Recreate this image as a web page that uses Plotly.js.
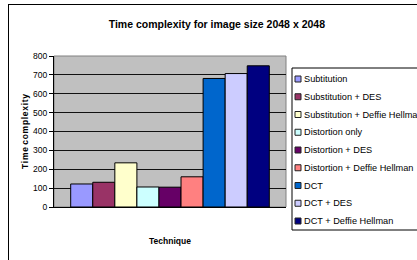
<!DOCTYPE html>
<html>
<head>
<meta charset="utf-8">
<script src="https://cdn.plot.ly/plotly-3.0.1.min.js"></script>
<style>
html,body{margin:0;padding:0;overflow:hidden;background:#fff;}
#chart{position:absolute;left:0;top:0;width:417px;height:260px;}
#frame{position:absolute;left:8px;top:4px;width:600px;height:400px;border:1px solid #000;pointer-events:none;}
</style>
</head>
<body>
<div id="chart"></div>
<div id="frame"></div>
<script>
const category = ['Technique'];
const seriesNames = ['Subtitution','Substitution + DES','Substitution + Deffie Hellman','Distortion only','Distortion + DES','Distortion + Deffie Hellman','DCT','DCT + DES','DCT + Deffie Hellman'];
const seriesValues = [122, 131, 234, 106, 105, 160, 681, 707, 748];
const seriesColors = ['#9999FF','#993366','#FFFFCC','#CCFFFF','#660066','#FF8080','#0066CC','#CCCCFF','#000080'];
const yTicks = [0,100,200,300,400,500,600,700,800];

const W = 417, H = 260;
const M = {l:54, r:131, t:56, b:53};
const PW = W - M.l - M.r, PH = H - M.t - M.b;
const px = v => (v - M.l) / PW;      // pixel x -> paper x
const py = v => (H - M.b - v) / PH;  // pixel y -> paper y

const traces = seriesNames.map((n,i)=>({
  type:'bar', name:n, x:category, y:[seriesValues[i]],
  marker:{color:seriesColors[i], line:{color:'#000', width:1}},
  hoverinfo:'name+y', showlegend:false
}));

// legend (drawn as a compact box like the original)
const legTop = 68, legBottom = 230, legLeft = 292, itemY0 = 79, itemStep = 17.75;
const shapes = [
  {type:'rect', xref:'paper', yref:'paper', x0:0, x1:1, y0:0, y1:1, line:{color:'#808080', width:1}, layer:'below'},
  {type:'rect', xref:'paper', yref:'paper', x0:px(legLeft), x1:px(440), y0:py(legBottom), y1:py(legTop), fillcolor:'#fff', line:{color:'#000', width:1}}
];
const annotations = [];
seriesNames.forEach((n,i)=>{
  const cy = itemY0 + itemStep*i;
  shapes.push({type:'rect', xref:'paper', yref:'paper', x0:px(295), x1:px(301), y0:py(cy+3), y1:py(cy-3),
    fillcolor:seriesColors[i], line:{color:'#222', width:1}});
  annotations.push({xref:'paper', yref:'paper', x:px(302), y:py(cy), xanchor:'left', yanchor:'middle',
    text:n, showarrow:false, font:{size:9.2, color:'#000'}});
});

const layout = {
  width:W, height:H,
  margin:{l:M.l, r:M.r, t:M.t, b:M.b, autoexpand:false},
  paper_bgcolor:'rgba(0,0,0,0)',
  plot_bgcolor:'#C0C0C0',
  font:{family:'Liberation Sans, Arial, sans-serif', color:'#000'},
  title:{text:'<b>Time complexity for image size 2048 x 2048</b>', font:{size:10.5, color:'#000'}, x:0.52, xref:'container', y:0.905, yref:'container', xanchor:'center', yanchor:'middle'},
  barmode:'group', bargap:0.144, bargroupgap:0,
  xaxis:{type:'category', range:[-0.5,0.5], showticklabels:false, ticks:'', showgrid:false, showline:true, linecolor:'#000', linewidth:1,
    title:{text:'<b>Technique</b>', font:{size:8.5}, standoff:31}},
  yaxis:{range:[0,800], tickvals:yTicks, ticks:'outside', ticklen:4, tickcolor:'#000', tickfont:{size:8.5}, showgrid:true, gridcolor:'#111', gridwidth:1,
    showline:true, linecolor:'#000', linewidth:1, zeroline:false,
    title:{text:'<b>Time complexity</b>'.replace(/(\w)(?=\w)/g,'$1\u200A'), font:{size:8.5}, standoff:3}},
  shapes:shapes,
  annotations:annotations,
  showlegend:false
};
Plotly.newPlot('chart', traces, layout, {staticPlot:true, displayModeBar:false});
</script>
</body>
</html>
